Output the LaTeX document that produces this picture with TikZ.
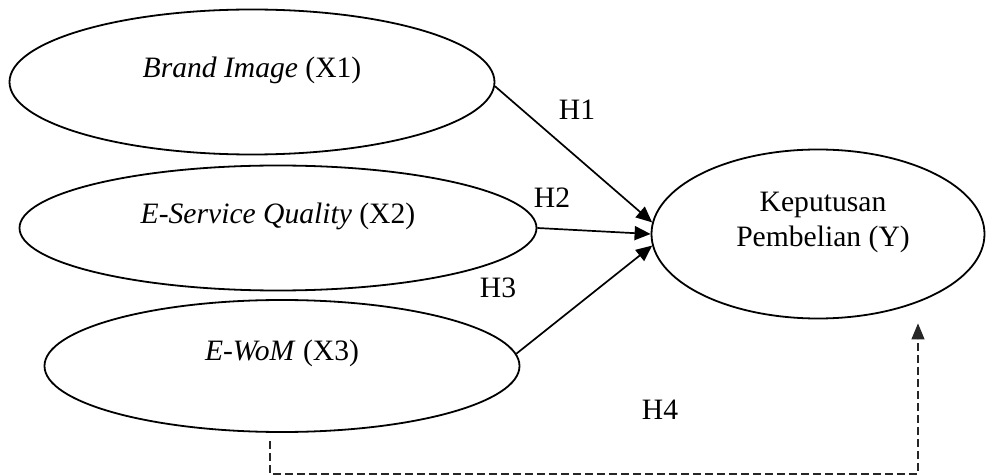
\documentclass[tikz,border=0pt]{standalone}
\usepackage{fontspec}
\setmainfont{Liberation Serif}
\usetikzlibrary{shapes.geometric,arrows.meta,calc}
\begin{document}
\begin{tikzpicture}[x=0.5pt,y=-0.5pt,
  construct/.style={draw,ellipse,line width=0.9pt,inner sep=0pt},
  caption/.style={font=\fontsize{14.8}{17.5}\selectfont,inner sep=0pt,align=center},
  hyp/.style={font=\fontsize{14.8}{17.5}\selectfont,inner sep=0pt},
  effect/.style={line width=0.85pt,-{Triangle[length=8pt,width=7pt]}},
  indirect/.style={line width=0.6pt,black!85,dash pattern=on 4pt off 2pt,
    -{Triangle[length=8pt,width=6.5pt]}}
]
\useasboundingbox (0,0) rectangle (987,476);

% latent variables
\node[construct,minimum width=242.5pt,minimum height=72.5pt] (X1) at (252,82) {};
\node[construct,minimum width=258.5pt,minimum height=62.5pt] (X2) at (278,228) {};
\node[construct,minimum width=237.5pt,minimum height=66pt]   (X3) at (282,366) {};
\node[construct,minimum width=166.5pt,minimum height=84.5pt] (Y)  at (818,234) {};

% variable names
\node[caption] (tX1) at (252,70)  {\textit{Brand Image} (X1)};
\node[caption] (tX2) at (278,216) {\textit{E-Service Quality} (X2)};
\node[caption] (tX3) at (282,353) {\textit{E-WoM} (X3)};
\node[caption] (tY)  at (823,222) {Keputusan\\Pembelian (Y)};

% direct effects
\draw[effect] (X1.-1) -- (Y.176);
\draw[effect] (X2.east) -- (Y.180);
\draw[effect] (X3.3) -- (Y.184);

% simultaneous effect
\coordinate (d1) at (270,474);
\coordinate (d2) at (918,474);
\draw[indirect] ($(X3.south -| d1)+(0,8)$) -- (d1) -- (d2) -- ($(Y.south -| d2)+(0,4)$);

% hypothesis labels
\node[hyp] (H1) at (577,110) {H1};
\node[hyp] (H2) at (552,198) {H2};
\node[hyp] (H3) at (498,288) {H3};
\node[hyp] (H4) at (660,410) {H4};
\end{tikzpicture}
\end{document}
